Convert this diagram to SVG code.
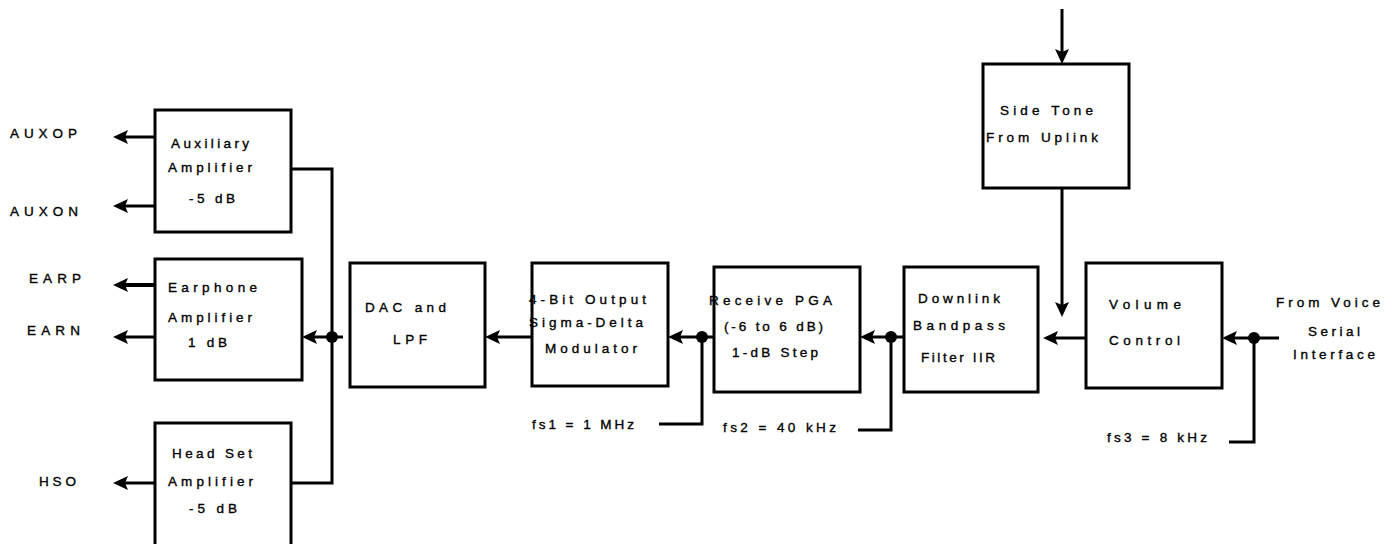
<svg xmlns="http://www.w3.org/2000/svg" width="1398" height="544" viewBox="0 0 1398 544">
<style>
.box{fill:#fff;stroke:#000;stroke-width:3}
.ln{fill:none;stroke:#000;stroke-width:3}
.ar{fill:none;stroke:#000;stroke-width:3;marker-end:url(#ah)}
.dot{fill:#000}
text{font-family:"Liberation Sans",Arial,sans-serif;font-size:13.5px;fill:#000;stroke:#000;stroke-width:0.35}
</style>
<defs>
<marker id="ah" viewBox="0 0 16 16" markerWidth="16" markerHeight="16" refX="12" refY="8" orient="auto" markerUnits="userSpaceOnUse">
<path d="M16,8 L1,1 L4,8 L1,15 z" fill="#000"/>
</marker>
</defs>
<rect width="1398" height="544" fill="#fff"/>
<g id="connectors">
<line class="ar" x1="155" y1="137" x2="117" y2="137"/>
<line class="ar" x1="155" y1="206" x2="117" y2="206"/>
<line class="ar" x1="155" y1="285" x2="117" y2="285" style="stroke-width:4"/>
<line class="ar" x1="155" y1="337" x2="117" y2="337"/>
<line class="ar" x1="155" y1="483" x2="117" y2="483"/>
<polyline class="ln" points="291,169 332,169 332,483 291,483"/>
<line class="ar" x1="343" y1="337" x2="306" y2="337"/>
<circle class="dot" cx="332" cy="337" r="6"/>
<line class="ar" x1="532" y1="337" x2="489" y2="337"/>
<line class="ar" x1="714" y1="337" x2="672" y2="337"/>
<polyline class="ln" points="702,337 702,424 659,424"/>
<circle class="dot" cx="702" cy="337" r="6"/>
<line class="ar" x1="904" y1="337" x2="864" y2="337"/>
<polyline class="ln" points="891,337 891,430 858,430"/>
<circle class="dot" cx="891" cy="337" r="6"/>
<line class="ar" x1="1086" y1="338" x2="1047" y2="338"/>
<line class="ar" x1="1062" y1="188" x2="1062" y2="313"/>
<line class="ar" x1="1062" y1="9" x2="1062" y2="60"/>
<line class="ar" x1="1279" y1="338" x2="1226" y2="338"/>
<polyline class="ln" points="1254,338 1254,442 1229,442"/>
<circle class="dot" cx="1254" cy="338" r="6"/>
</g>
<g id="labels">
<text x="10" y="138" textLength="67" lengthAdjust="spacing">AUXOP</text>
<text x="10" y="216" textLength="68" lengthAdjust="spacing">AUXON</text>
<text x="29" y="283" textLength="52" lengthAdjust="spacing">EARP</text>
<text x="27" y="335" textLength="53" lengthAdjust="spacing">EARN</text>
<text x="39" y="486" textLength="37" lengthAdjust="spacing">HSO</text>
<text x="532" y="429" textLength="102" lengthAdjust="spacing">fs1 = 1 MHz</text>
<text x="723" y="432" textLength="113" lengthAdjust="spacing">fs2 = 40 kHz</text>
<text x="1107" y="442" textLength="100" lengthAdjust="spacing">fs3 = 8 kHz</text>
<text x="1276" y="307" textLength="104" lengthAdjust="spacing">From Voice</text>
<text x="1308" y="336" textLength="52" lengthAdjust="spacing">Serial</text>
<text x="1293" y="359" textLength="82" lengthAdjust="spacing">Interface</text>
</g>
<g id="aux">
<rect class="box" x="155" y="110" width="136" height="122"/>
<text x="171" y="148" textLength="78" lengthAdjust="spacing">Auxiliary</text>
<text x="168" y="172" textLength="84" lengthAdjust="spacing">Amplifier</text>
<text x="189" y="203" textLength="46" lengthAdjust="spacing">-5 dB</text>
</g>
<g id="earphone">
<rect class="box" x="155" y="259" width="147" height="121"/>
<text x="168" y="292" textLength="89" lengthAdjust="spacing">Earphone</text>
<text x="168" y="322" textLength="84" lengthAdjust="spacing">Amplifier</text>
<text x="188" y="347" textLength="39" lengthAdjust="spacing">1 dB</text>
</g>
<g id="headset">
<rect class="box" x="155" y="423" width="136" height="135"/>
<text x="172" y="458" textLength="80" lengthAdjust="spacing">Head Set</text>
<text x="168" y="486" textLength="85" lengthAdjust="spacing">Amplifier</text>
<text x="189" y="513" textLength="48" lengthAdjust="spacing">-5 dB</text>
</g>
<g id="dac">
<rect class="box" x="350" y="263" width="135" height="124"/>
<text x="365" y="312" textLength="81" lengthAdjust="spacing">DAC and</text>
<text x="393" y="344" textLength="34" lengthAdjust="spacing">LPF</text>
</g>
<g id="sigma">
<rect class="box" x="532" y="263" width="136" height="123"/>
<text x="529" y="304" textLength="117" lengthAdjust="spacing">4-Bit Output</text>
<text x="529" y="327" textLength="114" lengthAdjust="spacing">Sigma-Delta</text>
<text x="545" y="353" textLength="92" lengthAdjust="spacing">Modulator</text>
</g>
<g id="pga">
<rect class="box" x="714" y="267" width="146" height="125"/>
<text x="709" y="305" textLength="123" lengthAdjust="spacing">Receive PGA</text>
<text x="724" y="331" textLength="99" lengthAdjust="spacing">(-6 to 6 dB)</text>
<text x="732" y="357" textLength="86" lengthAdjust="spacing">1-dB Step</text>
</g>
<g id="downlink">
<rect class="box" x="904" y="267" width="134" height="125"/>
<text x="918" y="303" textLength="82" lengthAdjust="spacing">Downlink</text>
<text x="913" y="330" textLength="92" lengthAdjust="spacing">Bandpass</text>
<text x="921" y="362" textLength="74" lengthAdjust="spacing">Filter IIR</text>
</g>
<g id="sidetone">
<rect class="box" x="983" y="64" width="146" height="124"/>
<text x="1000" y="115" textLength="93" lengthAdjust="spacing">Side Tone</text>
<text x="986" y="142" textLength="112" lengthAdjust="spacing">From Uplink</text>
</g>
<g id="volume">
<rect class="box" x="1086" y="263" width="136" height="125"/>
<text x="1109" y="309" textLength="72" lengthAdjust="spacing">Volume</text>
<text x="1109" y="345" textLength="71" lengthAdjust="spacing">Control</text>
</g>
</svg>
